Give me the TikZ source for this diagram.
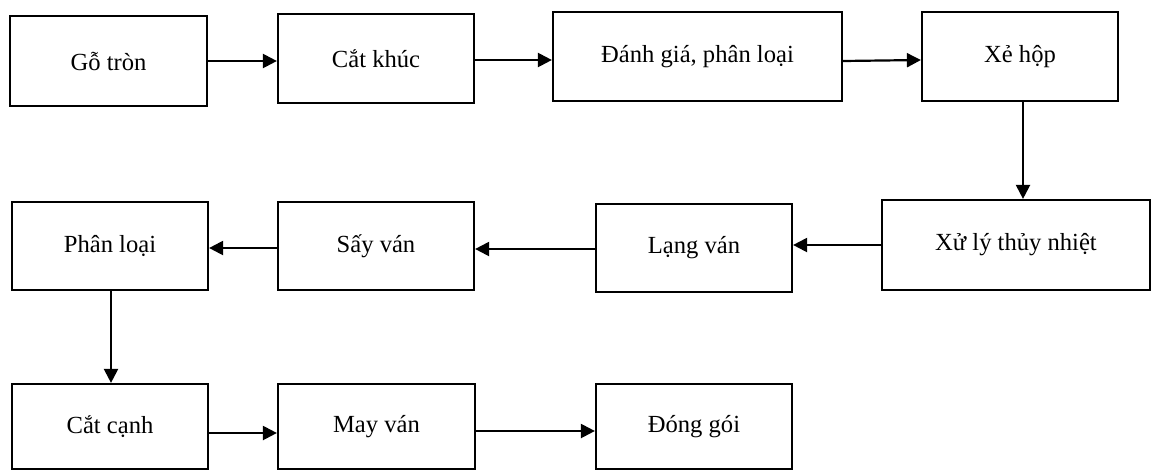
\documentclass[tikz,border=0pt]{standalone}
\usepackage{fontspec}
\setmainfont{Liberation Serif}
\usetikzlibrary{arrows.meta}
\tikzset{
  box/.style={draw, line width=2.2pt, inner sep=0pt, font=\fontsize{24.6}{28}\selectfont, fill=white},
  conn/.style={line width=2.2pt, -{Triangle[length=14pt,width=14pt]}},
}
\begin{document}
\begin{tikzpicture}[x=1pt,y=-1pt]
\useasboundingbox[fill=white] (0,0) rectangle (1151,472);
\node[box, minimum width=197pt, minimum height=90pt] (go) at (108.5,61) {Gỗ tròn};
\node[box, minimum width=196pt, minimum height=89pt] (cat) at (376,58.5) {Cắt khúc};
\node[box, minimum width=289pt, minimum height=89pt] (danh) at (697.5,56.5) {Đánh giá, phân loại};
\node[box, minimum width=196pt, minimum height=89pt] (xe) at (1020,56.5) {Xẻ hộp};
\node[box, minimum width=268pt, minimum height=90pt] (xuly) at (1016,245) {Xử lý thủy nhiệt};
\node[box, minimum width=196pt, minimum height=88pt] (lang) at (694,248) {Lạng ván};
\node[box, minimum width=196pt, minimum height=88pt] (say) at (376,246) {Sấy ván};
\node[box, minimum width=196pt, minimum height=88pt] (phan) at (110,246) {Phân loại};
\node[box, minimum width=196pt, minimum height=85pt] (catcanh) at (110,426.5) {Cắt cạnh};
\node[box, minimum width=197pt, minimum height=85pt] (may) at (376.5,426.5) {May ván};
\node[box, minimum width=196pt, minimum height=85pt] (dong) at (694,426.5) {Đóng gói};

\draw[conn] (go.east) -- (cat.west |- go.east);
\draw[conn] ([yshift=-1.5pt]cat.east) -- ([yshift=-1.5pt]danh.west |- cat.east);
\draw[conn] ([yshift=-4.5pt]danh.east) -- ([yshift=-3.5pt]xe.west);
\draw[conn] ([xshift=3pt]xe.south) -- ([xshift=3pt]xe.south |- xuly.north);
\draw[conn] (xuly.west) -- (lang.east |- xuly.west);
\draw[conn] ([yshift=-1pt]lang.west) -- ([yshift=-1pt]say.east |- lang.west);
\draw[conn] ([yshift=-2pt]say.west) -- ([yshift=-2pt]phan.east);
\draw[conn] ([xshift=1pt]phan.south) -- ([xshift=1pt]catcanh.north);
\draw[conn] ([yshift=-6.5pt]catcanh.east) -- ([yshift=-6.5pt]may.west);
\draw[conn] ([yshift=-4.5pt]may.east) -- ([yshift=-4.5pt]dong.west);
\end{tikzpicture}
\end{document}
